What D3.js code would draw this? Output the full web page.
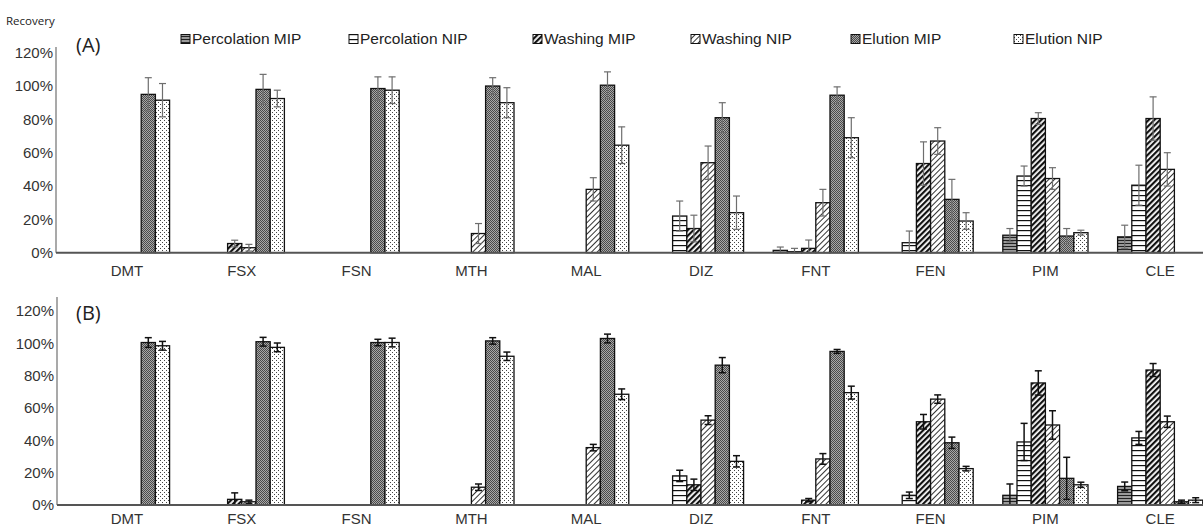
<!DOCTYPE html>
<html>
<head>
<meta charset="utf-8">
<script src="https://cdn.jsdelivr.net/npm/d3@7"></script>
<style>
  body { margin:0; background:#fff; }
  svg { display:block; font-family:"Liberation Sans", Arial, sans-serif; }
</style>
</head>
<body>
<svg id="chart" width="1203" height="526"></svg>
<script>
// categories and series
var categories = ['DMT','FSX','FSN','MTH','MAL','DIZ','FNT','FEN','PIM','CLE'];
var seriesNames = ['Percolation MIP','Percolation NIP','Washing MIP','Washing NIP','Elution MIP','Elution NIP'];
var yTicks = [0,20,40,60,80,100,120];

// panel (A) values, %
var aPercMIP = [0,0,0,0,0,0,1.4,0,10.5,9.5];
var aPercNIP = [0,0,0,0,0,22,0.6,6,46,40.5];
var aWashMIP = [0,5.5,0,0,0,14.5,2.6,53.5,80.5,80.5];
var aWashNIP = [0,3,0,11.5,38,54,30,67,44.5,50];
var aEluMIP  = [95,98,98.5,100,100.5,81,94.5,32,10,0];
var aEluNIP  = [91.5,92.5,97.5,90,64.5,24,69,19,12,0];
// panel (A) error bars
var aPercMIPErr = [0,0,0,0,0,0,2,0,4,7];
var aPercNIPErr = [0,0,0,0,0,9,2,7,6,12];
var aWashMIPErr = [0,2,0,0,0,8,5,13,3.5,13];
var aWashNIPErr = [0,2,0,6,7,10,8,8,6.5,10];
var aEluMIPErr  = [10,9,7,5,8,9,5,12,4.5,0];
var aEluNIPErr  = [10,5,8,9,11,10,12,5,1.5,0];

// panel (B) values, %
var bPercMIP = [0,0,0,0,0,0,0,0,6,11.5];
var bPercNIP = [0,0,0,0,0,18,0,6,39,41.5];
var bWashMIP = [0,3.5,0,0,0,12.5,3,51.5,75.5,83.5];
var bWashNIP = [0,2,0,11,35.5,52.5,28.5,65.5,49.5,51.5];
var bEluMIP  = [100.5,101,100.5,101.5,103,86.5,95,38.5,16.5,2];
var bEluNIP  = [98.5,97.5,100.5,92,68.5,27,69.5,22.5,12.5,3];
// panel (B) error bars
var bPercMIPErr = [0,0,0,0,0,0,0,0,7,2.7];
var bPercNIPErr = [0,0,0,0,0,3.5,0,2,11.5,4];
var bWashMIPErr = [0,4,0,0,0,3.5,1,4.5,7.5,4];
var bWashNIPErr = [0,1,0,2,2,2.7,3.3,2.6,8.8,3.5];
var bEluMIPErr  = [3,2.7,2,2,2.7,4.7,1.2,3.5,13,1];
var bEluNIPErr  = [2.7,2.7,2.7,2.6,3.3,3.5,4,1.4,1.6,1.5];

var svg = d3.select('#chart');
var defs = svg.append('defs');

// fill patterns, one per series
function makePattern(id, w, h, bg, draw, rot) {
  var p = defs.append('pattern').attr('id', id)
    .attr('patternUnits','userSpaceOnUse').attr('width', w).attr('height', h);
  if (rot) p.attr('patternTransform', 'rotate(' + rot + ')');
  p.append('rect').attr('width', w).attr('height', h).attr('fill', bg);
  draw(p);
}
makePattern('p0', 4, 3, '#9a9a9a', function(p){
  p.append('rect').attr('y',0).attr('width',4).attr('height',1).attr('fill','#222');
});
makePattern('p1', 4, 5, '#fff', function(p){
  p.append('rect').attr('y',0).attr('width',4).attr('height',1.2).attr('fill','#111');
});
makePattern('p2', 4, 4, '#fff', function(p){
  p.append('rect').attr('x',0).attr('width',2.2).attr('height',4).attr('fill','#111');
}, 45);
makePattern('p3', 4, 4, '#fff', function(p){
  p.append('rect').attr('x',0).attr('width',1).attr('height',4).attr('fill','#333');
}, 45);
makePattern('p4', 2, 2, '#a8a8a8', function(p){
  p.append('rect').attr('x',0).attr('y',0).attr('width',1).attr('height',1).attr('fill','#4a4a4a');
  p.append('rect').attr('x',1).attr('y',1).attr('width',1).attr('height',1).attr('fill','#4a4a4a');
});
makePattern('p5', 4, 4, '#fff', function(p){
  p.append('rect').attr('x',0).attr('y',0).attr('width',1).attr('height',1).attr('fill','#444');
  p.append('rect').attr('x',2).attr('y',2).attr('width',1).attr('height',1).attr('fill','#444');
});

var x = d3.scaleBand().domain(categories).range([69.6, 1217.6])
  .paddingInner(0.258).paddingOuter(0.129);
var xs = d3.scaleBand().domain(seriesNames).range([0, x.bandwidth()]);

//draw one panel
function drawPanel(opt) {
  var y = d3.scaleLinear().domain([0,120]).range([opt.y0, opt.y120]);
  var g = svg.append('g');

  // y axis labels
  var yAxis = d3.axisLeft(y).tickValues(yTicks).tickSize(0).tickPadding(3)
    .tickFormat(function(d){ return d + '%'; });
  var ya = g.append('g').attr('transform','translate(' + opt.axisX + ',0)').call(yAxis);
  ya.select('.domain').remove();
  ya.selectAll('text').attr('font-size', 15).attr('fill', '#333')
    .attr('font-family', '"Liberation Sans", Arial, sans-serif');

  g.append('line').attr('x1', opt.axisX).attr('x2', opt.axisX)
    .attr('y1', opt.axisTop).attr('y2', opt.y0)
    .attr('stroke','#8c8c8c').attr('stroke-width',1.5);

  // bars
  seriesNames.forEach(function(s, si){
    var vals = opt.values[si];
    categories.forEach(function(c, ci){
      var v = vals[ci];
      if (!v) return;
      var bx = x(c) + xs(s);
      g.append('rect').attr('x', bx).attr('y', y(v))
        .attr('width', xs.bandwidth()).attr('height', opt.y0 - y(v))
        .attr('fill','url(#p' + si + ')').attr('stroke','#111').attr('stroke-width',1.3);
    });
  });

  // error bars
  seriesNames.forEach(function(s, si){
    var vals = opt.values[si], errs = opt.errors[si];
    categories.forEach(function(c, ci){
      var v = vals[ci], e = errs[ci];
      if (!e) return;
      var cx = x(c) + xs(s) + xs.bandwidth()/2;
      var lo = Math.max(0, v - e), hi = v + e;
      var eg = g.append('g').attr('stroke', opt.errColor).attr('stroke-width', opt.errWidth);
      eg.append('line').attr('x1',cx).attr('x2',cx).attr('y1',y(lo)).attr('y2',y(hi));
      eg.append('line').attr('x1',cx-opt.cap).attr('x2',cx+opt.cap).attr('y1',y(hi)).attr('y2',y(hi));
      eg.append('line').attr('x1',cx-opt.cap).attr('x2',cx+opt.cap).attr('y1',y(lo)).attr('y2',y(lo));
    });
  });

  // baseline
  g.append('line').attr('x1', opt.axisX).attr('x2', 1203)
    .attr('y1', opt.y0).attr('y2', opt.y0)
    .attr('stroke','#555').attr('stroke-width',2);

  // category labels
  var xAxis = d3.axisBottom(x).tickSize(0).tickPadding(0);
  var xa = g.append('g').attr('transform','translate(0,' + opt.labelY + ')').call(xAxis);
  xa.select('.domain').remove();
  xa.selectAll('text').attr('font-size', 15).attr('fill', '#333').attr('dy', '0.35em')
    .attr('font-family', '"Liberation Sans", Arial, sans-serif');

  // panel tag
  g.append('text').attr('x', 76).attr('y', opt.tagY).attr('dy','0.35em')
    .attr('font-family','"Open Sans", sans-serif').attr('font-size', 20)
    .attr('fill','#222').text(opt.tag);
}

drawPanel({
  tag: '(A)', tagY: 45, y0: 252.7, y120: 52.7, axisX: 56, axisTop: 47, labelY: 271,
  values: [aPercMIP, aPercNIP, aWashMIP, aWashNIP, aEluMIP, aEluNIP],
  errors: [aPercMIPErr, aPercNIPErr, aWashMIPErr, aWashNIPErr, aEluMIPErr, aEluNIPErr],
  errColor: '#6e6e6e', errWidth: 1.2, cap: 3.5
});
drawPanel({
  tag: '(B)', tagY: 313, y0: 505, y120: 311, axisX: 57, axisTop: 297, labelY: 519,
  values: [bPercMIP, bPercNIP, bWashMIP, bWashNIP, bEluMIP, bEluNIP],
  errors: [bPercMIPErr, bPercNIPErr, bWashMIPErr, bWashNIPErr, bEluMIPErr, bEluNIPErr],
  errColor: '#111', errWidth: 1.5, cap: 3.5
});

// y title
svg.append('text').attr('x', 6).attr('y', 21).attr('dy','0.35em')
  .attr('font-family','"Open Sans", sans-serif').attr('font-size', 11.5)
  .attr('fill','#222').text('Recovery');

// legend
var legendX = [181, 349, 533, 691, 851, 1014];
var lg = svg.append('g').attr('transform','translate(0,39)');
seriesNames.forEach(function(s, i){
  lg.append('rect').attr('x', legendX[i]).attr('y', -4.5).attr('width', 9).attr('height', 9)
    .attr('fill','url(#p' + i + ')').attr('stroke','#111').attr('stroke-width',1);
  lg.append('text').attr('x', legendX[i] + 11).attr('y', 0).attr('dy','0.35em')
    .attr('font-size', 15.5).attr('fill','#222').text(s);
});
</script>
</body>
</html>
